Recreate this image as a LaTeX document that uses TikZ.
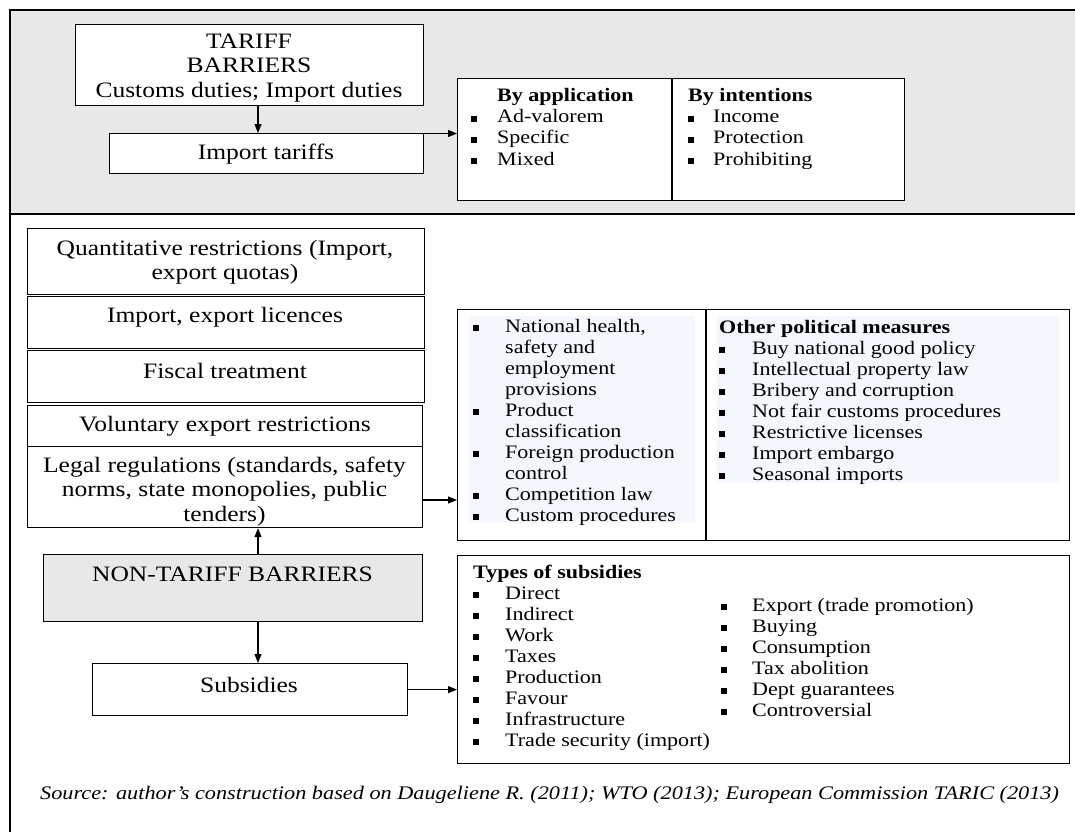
\documentclass[tikz,border=0pt]{standalone}
\usepackage{fontspec}
\setmainfont{Liberation Serif}[FakeStretch=1.16]
\usetikzlibrary{arrows.meta}
\definecolor{panelgray}{RGB}{232,232,232}
\definecolor{listshade}{RGB}{244,248,252}
\newcommand{\bigtxt}{\fontsize{22}{24.5}\selectfont}
\newcommand{\smtxt}{\fontsize{19}{21}\selectfont}
\newcommand{\sqbul}{\rule[1.4pt]{6pt}{6pt}}
\newcommand{\bl}[1]{\makebox[#1][l]{\sqbul}}
\tikzset{
  box/.style={draw=black, line width=1.2pt, inner sep=0pt, anchor=north west},
  lbl/.style={font=\bigtxt, align=center, inner sep=0pt},
  lst/.style={font=\smtxt, inner sep=0pt, anchor=base west},
  arr/.style={line width=1.1pt, -{Triangle[length=9pt,width=7pt]}},
  frameline/.style={line width=1.6pt, draw=black}
}
\begin{document}
\begin{tikzpicture}[x=1pt, y=-1pt]
\useasboundingbox (0,0) rectangle (1075,832);

% tariff panel background and frame
\fill[panelgray] (10,10) rectangle (1075,214);
\draw[frameline] (1075,10) -- (10,10) -- (10,832);
\draw[frameline] (10,214) -- (1075,214);

% ---- tariff barriers ----
\node[box, fill=white, minimum width=348pt, minimum height=81pt] (tariff) at (75,24) {};
\node[lbl] (tariff-t) at (249,68) {TARIFF\\BARRIERS\\Customs duties; Import duties};
\node[box, fill=white, minimum width=314pt, minimum height=40pt] (imptar) at (109,133) {};
\node[lbl] (imptar-t) at (266,154) {Import tariffs};
\node[box, fill=white, minimum width=447pt, minimum height=122pt] (app) at (457,78) {};
\coordinate (appdiv) at (672,0);
\draw[line width=1.2pt] (app.north -| appdiv) -- (app.south -| appdiv);

\node[lst] (app-l) at (471,102) {\begin{tabular}[t]{@{}l@{}l@{}}
 & \textbf{By application}\\
\bl{26pt} & Ad-valorem\\
\bl{26pt} & Specific\\
\bl{26pt} & Mixed
\end{tabular}};
\node[lst] (app-r) at (688,102) {\begin{tabular}[t]{@{}l@{}l@{}}
\multicolumn{2}{@{}l@{}}{\textbf{By intentions}}\\
\bl{25pt} & Income\\
\bl{25pt} & Protection\\
\bl{25pt} & Prohibiting
\end{tabular}};

\coordinate (ax) at (258,0);
\draw[arr] (tariff.south -| ax) -- (imptar.north -| ax);
\draw[arr] ([yshift=-0.5pt]imptar.north east) -- ([yshift=-0.5pt]imptar.north east -| app.west);

% ---- non-tariff barriers ----
\node[box, minimum width=397pt, minimum height=66pt] (quant) at (27,228) {};
\node[lbl] (quant-t) at (225,262) {Quantitative restrictions (Import,\\export quotas)};
\node[box, minimum width=397pt, minimum height=52pt] (lic) at (27,296) {};
\node[lbl] (lic-t) at (225,317) {Import, export licences};
\node[box, minimum width=397pt, minimum height=52pt] (fisc) at (27,350) {};
\node[lbl] (fisc-t) at (225,370.5) {Fiscal treatment};
\node[box, minimum width=395pt, minimum height=41pt] (vol) at (27,405) {};
\node[lbl] (vol-t) at (225,426) {Voluntary export restrictions};
\node[box, minimum width=395pt, minimum height=81pt] (legal) at (27,446) {};
\node[lbl] (legal-t) at (224.5,491.5) {Legal regulations (standards, safety\\norms, state monopolies, public\\tenders)};
\node[box, fill=panelgray, minimum width=379pt, minimum height=67pt] (ntb) at (43,554) {};
\node[lbl] (ntb-t) at (232.5,574) {NON-TARIFF BARRIERS};
\node[box, minimum width=315pt, minimum height=52pt] (subs) at (92,663) {};
\node[lbl] (subs-t) at (249,685) {Subsidies};

% other measures
\node[box, minimum width=612pt, minimum height=231pt] (mid) at (457,309) {};
\fill[listshade] (469,316) rectangle (695,523);
\fill[listshade] (717,316) rectangle (1059,483);
\coordinate (middiv) at (706,0);
\draw[line width=1.2pt] (mid.north -| middiv) -- (mid.south -| middiv);
\node[lst] (mid-l) at (473,332) {\begin{tabular}[t]{@{}l@{}l@{}}
\bl{32pt} & National health,\\
 & safety and\\
 & employment\\
 & provisions\\
\bl{32pt} & Product\\
 & classification\\
\bl{32pt} & Foreign production\\
 & control\\
\bl{32pt} & Competition law\\
\bl{32pt} & Custom procedures
\end{tabular}};
\node[lst] (mid-r) at (719,333) {\begin{tabular}[t]{@{}l@{}l@{}}
\multicolumn{2}{@{}l@{}}{\textbf{Other political measures}}\\
\bl{33pt} & Buy national good policy\\
\bl{33pt} & Intellectual property law\\
\bl{33pt} & Bribery and corruption\\
\bl{33pt} & Not fair customs procedures\\
\bl{33pt} & Restrictive licenses\\
\bl{33pt} & Import embargo\\
\bl{33pt} & Seasonal imports
\end{tabular}};

% subsidy types
\node[box, minimum width=612pt, minimum height=208pt] (types) at (457,555) {};
\node[lst] (types-l) at (473,578) {\begin{tabular}[t]{@{}l@{}l@{}}
\multicolumn{2}{@{}l@{}}{\textbf{Types of subsidies}}\\
\bl{32pt} & Direct\\
\bl{32pt} & Indirect\\
\bl{32pt} & Work\\
\bl{32pt} & Taxes\\
\bl{32pt} & Production\\
\bl{32pt} & Favour\\
\bl{32pt} & Infrastructure\\
\bl{32pt} & Trade security (import)
\end{tabular}};
\node[lst] (types-r) at (721,611) {\begin{tabular}[t]{@{}l@{}l@{}}
\bl{31pt} & Export (trade promotion)\\
\bl{31pt} & Buying\\
\bl{31pt} & Consumption\\
\bl{31pt} & Tax abolition\\
\bl{31pt} & Dept guarantees\\
\bl{31pt} & Controversial
\end{tabular}};

\draw[arr] (ntb.north -| ax) -- (legal.south -| ax);
\draw[arr] (ntb.south -| ax) -- (subs.north -| ax);
\coordinate (ly) at (0,500);
\draw[arr] (legal.east |- ly) -- (mid.west |- ly);
\draw[arr] (subs.east) -- (subs.east -| types.west);

\node[font=\fontsize{19.2}{21}\selectfont\itshape, anchor=west, inner sep=0pt] (src) at (40,795) {Source: author’s construction based on Daugeliene R. (2011); WTO (2013); European Commission TARIC (2013)};
\end{tikzpicture}
\end{document}
